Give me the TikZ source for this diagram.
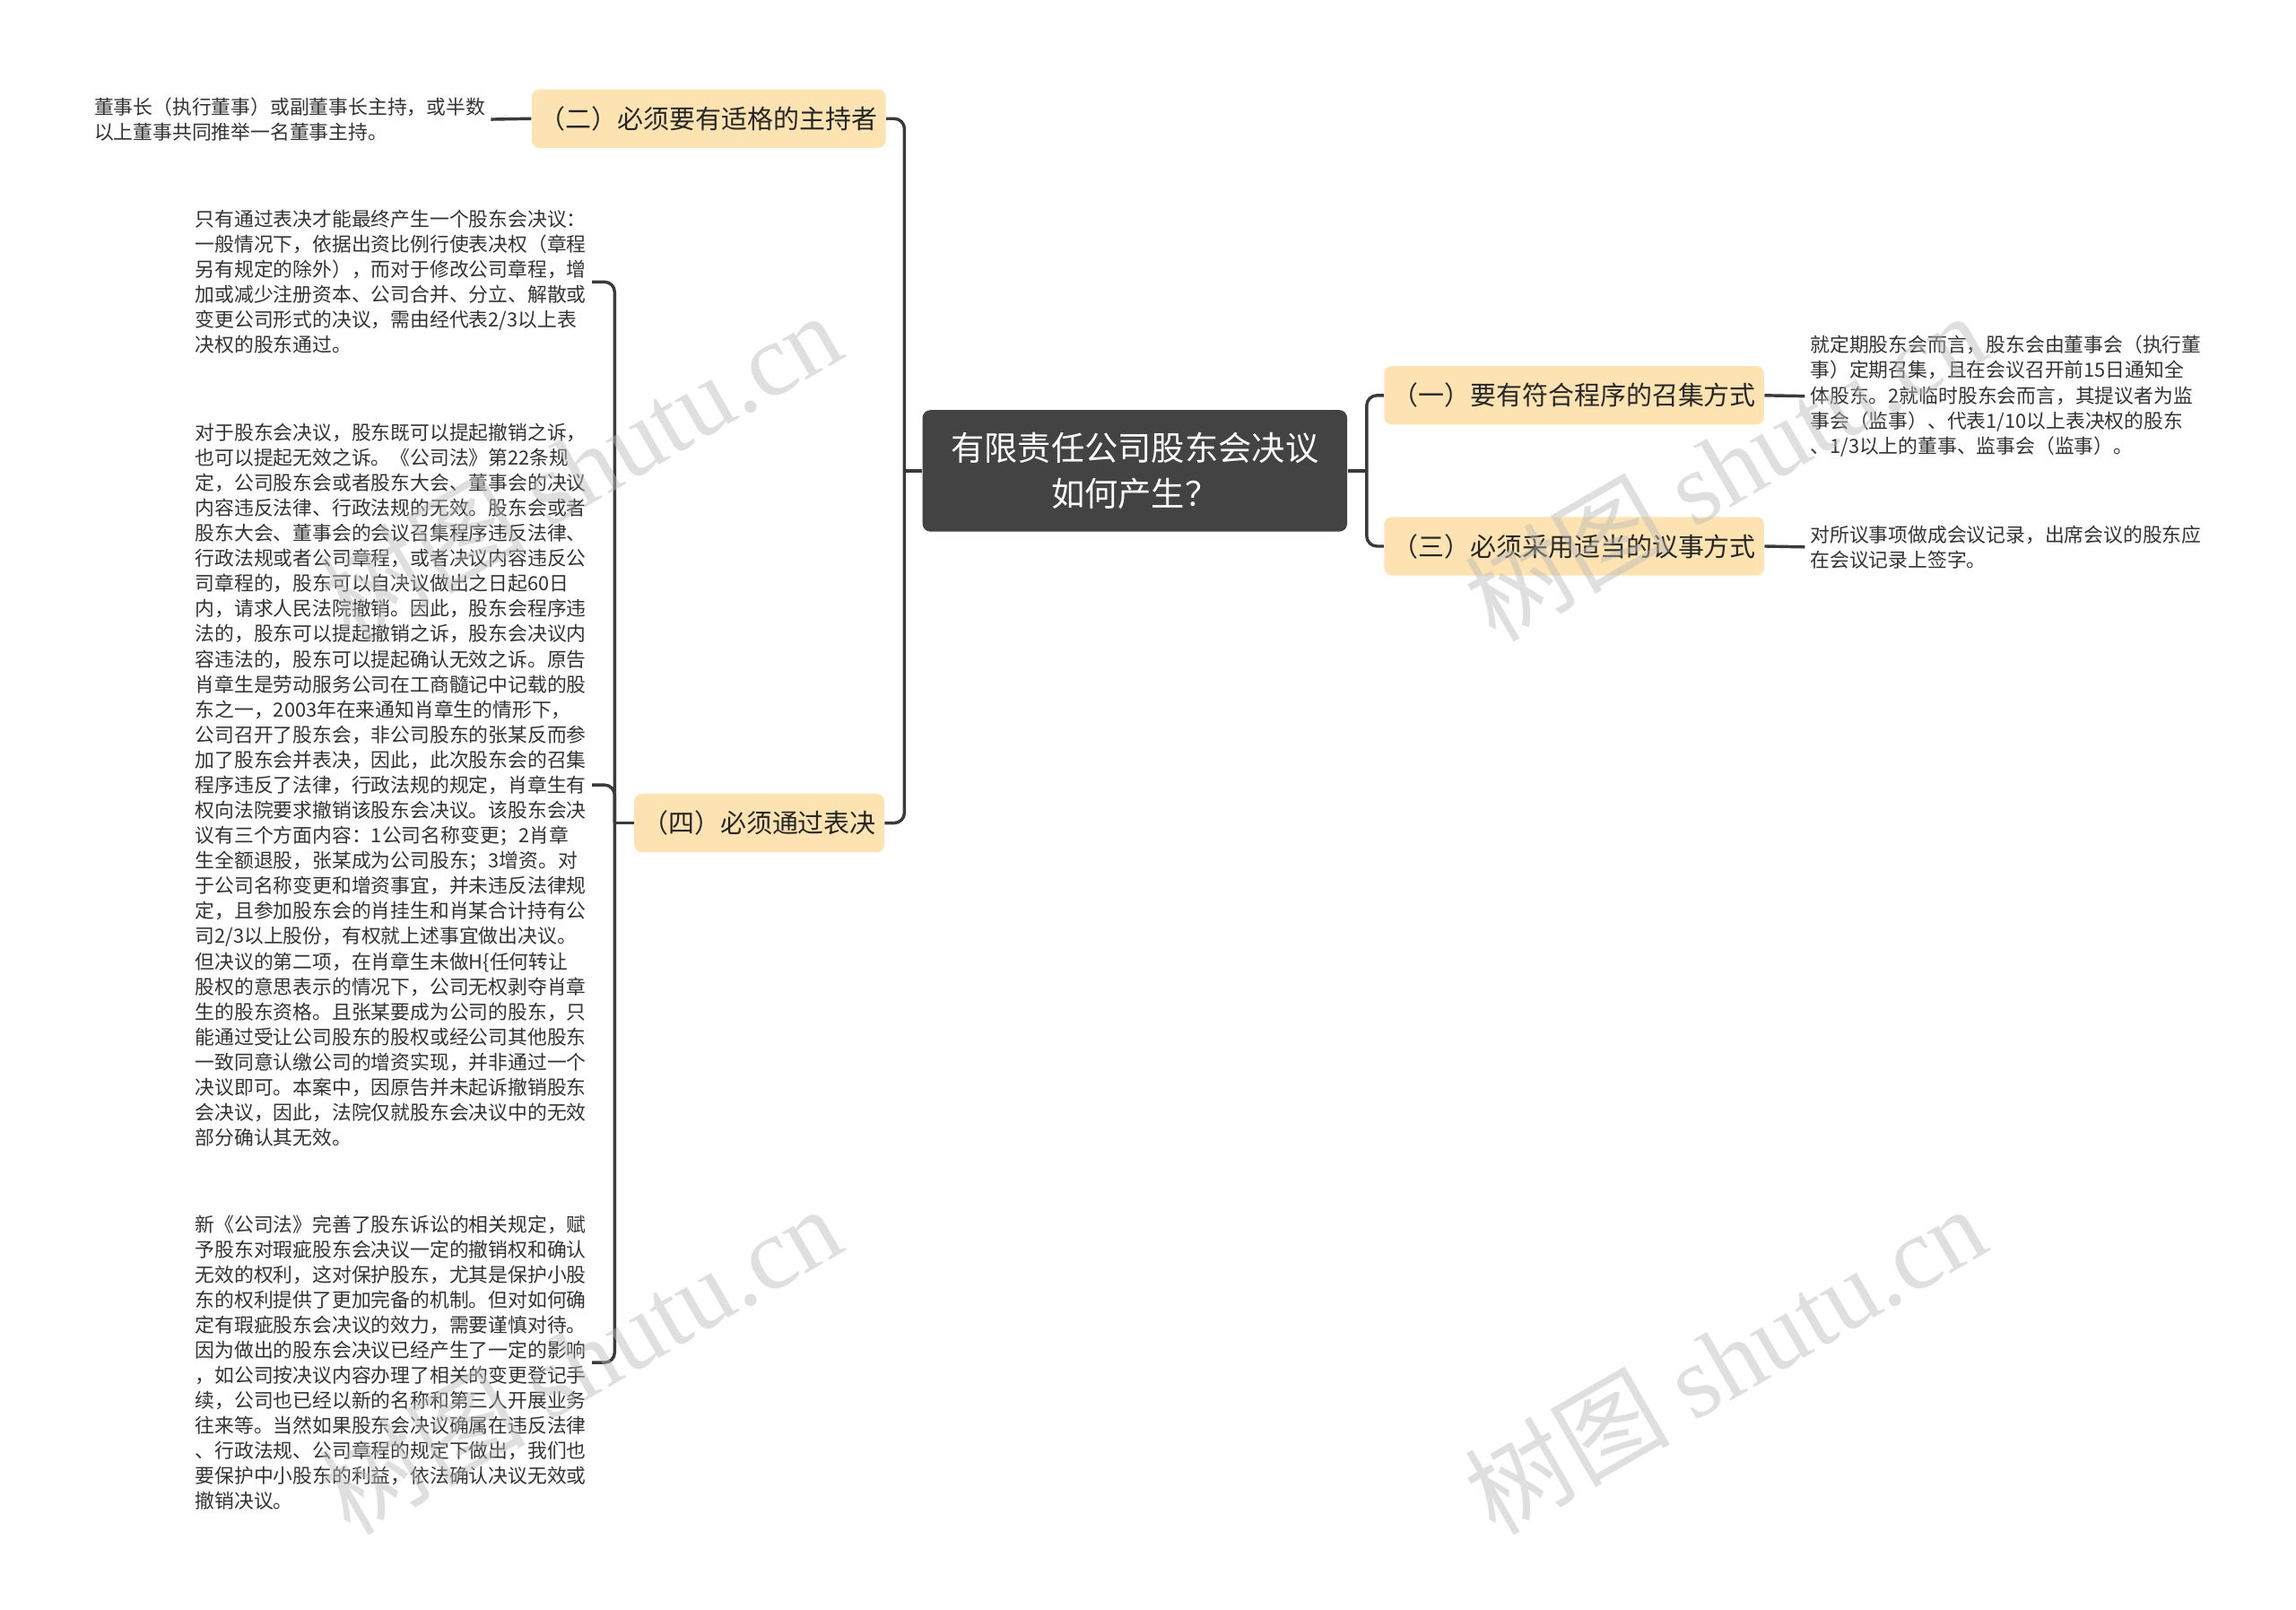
\documentclass[tikz,border=0pt]{standalone}
\usepackage{fontspec}
\setmainfont{Noto Sans CJK SC}
\newfontfamily\wmfont{Liberation Serif}

\definecolor{rootgray}{HTML}{434343}
\definecolor{subfill}{HTML}{FCE3B1}
\definecolor{linegray}{HTML}{3A3A3A}
\definecolor{leaftext}{HTML}{333333}

\tikzset{
  rootbox/.style={fill=rootgray, rounded corners=3pt, text=white, align=center,
    minimum width=5.8cm, minimum height=1.66cm, font=\fontsize{13pt}{17.6pt}\selectfont},
  subbox/.style={fill=subfill, rounded corners=3pt, text=black!85, minimum height=0.8cm,
    inner xsep=0.11cm, font=\fontsize{10.1pt}{12pt}\selectfont},
  leaf/.style={anchor=west, align=left, inner sep=2pt, text=leaftext,
    font=\fontsize{7.6pt}{9.79pt}\selectfont},
  link/.style={draw=linegray, line width=1.2pt, rounded corners=4pt},
  mark wm/.style={rotate=30, text=gray!55, opacity=0.45, font=\fontsize{40pt}{40pt}\selectfont}
}

\begin{document}
\begin{tikzpicture}[x=0.02cm, y=-0.02cm]
\useasboundingbox (0,0) rectangle (1568,1099);
% central topic
\node[rootbox] (root) at (775,321.5) {有限责任公司股东会决议\\如何产生？};
% main branches
\node[subbox] (sub2) at (484,81) {（二）必须要有适格的主持者};
\node[subbox] (sub4) at (518.5,562) {（四）必须通过表决};
\node[subbox] (sub1) at (1075,270) {（一）要有符合程序的召集方式};
\node[subbox] (sub3) at (1075,373) {（三）必须采用适当的议事方式};
% leaves
\node[leaf] (leaf2) at (60.5,81.5) {董事长（执行董事）或副董事长主持，或半数\\
以上董事共同推举一名董事主持。};
\node[leaf] (leaf4a) at (129.5,192.5) {只有通过表决才能最终产生一个股东会决议：\\
一般情况下，依据出资比例行使表决权（章程\\
另有规定的除外），而对于修改公司章程，增\\
加或减少注册资本、公司合并、分立、解散或\\
变更公司形式的决议，需由经代表2/3以上表\\
决权的股东通过。};
\node[leaf] (leaf4b) at (129.5,536) {对于股东会决议，股东既可以提起撤销之诉，\\
也可以提起无效之诉。《公司法》第22条规\\
定，公司股东会或者股东大会、董事会的决议\\
内容违反法律、行政法规的无效。股东会或者\\
股东大会、董事会的会议召集程序违反法律、\\
行政法规或者公司章程，或者决议内容违反公\\
司章程的，股东可以自决议做出之日起60日\\
内，请求人民法院撤销。因此，股东会程序违\\
法的，股东可以提起撤销之诉，股东会决议内\\
容违法的，股东可以提起确认无效之诉。原告\\
肖章生是劳动服务公司在工商髓记中记载的股\\
东之一，2003年在来通知肖章生的情形下，\\
公司召开了股东会，非公司股东的张某反而参\\
加了股东会并表决，因此，此次股东会的召集\\
程序违反了法律，行政法规的规定，肖章生有\\
权向法院要求撤销该股东会决议。该股东会决\\
议有三个方面内容：1公司名称变更；2肖章\\
生全额退股，张某成为公司股东；3增资。对\\
于公司名称变更和增资事宜，并未违反法律规\\
定，且参加股东会的肖挂生和肖某合计持有公\\
司2/3以上股份，有权就上述事宜做出决议。\\
但决议的第二项，在肖章生未做H\{任何转让\\
股权的意思表示的情况下，公司无权剥夺肖章\\
生的股东资格。且张某要成为公司的股东，只\\
能通过受让公司股东的股权或经公司其他股东\\
一致同意认缴公司的增资实现，并非通过一个\\
决议即可。本案中，因原告并未起诉撤销股东\\
会决议，因此，法院仅就股东会决议中的无效\\
部分确认其无效。};
\node[leaf] (leaf4c) at (129.5,930.5) {新《公司法》完善了股东诉讼的相关规定，赋\\
予股东对瑕疵股东会决议一定的撤销权和确认\\
无效的权利，这对保护股东，尤其是保护小股\\
东的权利提供了更加完备的机制。但对如何确\\
定有瑕疵股东会决议的效力，需要谨慎对待。\\
因为做出的股东会决议已经产生了一定的影响\\
，如公司按决议内容办理了相关的变更登记手\\
续，公司也已经以新的名称和第三人开展业务\\
往来等。当然如果股东会决议确属在违反法律\\
、行政法规、公司章程的规定下做出，我们也\\
要保护中小股东的利益，依法确认决议无效或\\
撤销决议。};
\node[leaf] (leaf1) at (1232.5,270.5) {就定期股东会而言，股东会由董事会（执行董\\
事）定期召集，且在会议召开前15日通知全\\
体股东。2就临时股东会而言，其提议者为监\\
事会（监事）、代表1/10以上表决权的股东\\
、1/3以上的董事、监事会（监事）。};
\node[leaf] (leaf3) at (1232.5,373.5) {对所议事项做成会议记录，出席会议的股东应\\
在会议记录上签字。};
% connectors
\draw[link] (root.west) -- ++(-12,0) coordinate (forkL);
\draw[link] (forkL) |- (sub2.east);
\draw[link] (forkL) |- (sub4.east);
\draw[link] (root.east) -- ++(13,0) coordinate (forkR);
\draw[link] (forkR) |- (sub1.west);
\draw[link] (forkR) |- (sub3.west);
\draw[link] (sub2.west) -- (leaf2.east);
\draw[link] (sub1.east) -- (leaf1.west);
\draw[link] (sub3.east) -- (leaf3.west);
\draw[link] (sub4.west) -- ++(-13,0) coordinate (fork4);
\foreach \lf in {leaf4a,leaf4b,leaf4c}{% one hook per leaf
\draw[link] (fork4) |- (\lf.east);}
% watermark
\foreach \wx/\wy in {396/318,1178/318,396/928,1178/928}{%
\node[mark wm] at (\wx,\wy) {树图 {\wmfont shutu.cn}};}
\end{tikzpicture}
\end{document}
